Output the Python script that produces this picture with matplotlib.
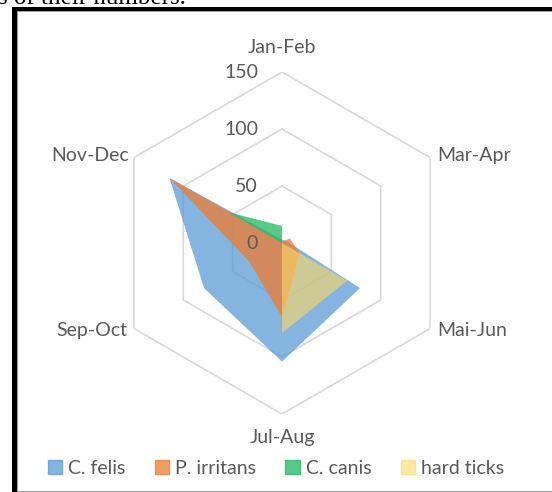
import matplotlib.pyplot as plt
import numpy as np
from matplotlib.patches import Patch, Rectangle

# seasonal counts per 2-month period
categories = ['Jan-Feb', 'Mar-Apr', 'Mai-Jun', 'Jul-Aug', 'Sep-Oct', 'Nov-Dec']
c_felis = [3, 4, 79, 104, 79, 114]
p_irritans = [1, 8, 18, 65, 33, 114]
c_canis = [15, 0, 0, 0, 0, 54]
hard_ticks = [0, 0, 66, 79, 0, 0]
r_ticks = [0, 50, 100, 150]

series = [('C. felis', c_felis, '#5B9BD5', 0.75),
          ('P. irritans', p_irritans, '#ED7D31', 0.75),
          ('C. canis', c_canis, '#22B863', 0.75),
          ('hard ticks', hard_ticks, '#FFD966', 0.6)]

txt = '#595959'
font = 'Lato'
fs = 14

fig = plt.figure(figsize=(5.52, 4.92), dpi=100)
ax = fig.add_axes([0.2011, 0.1585, 0.6196, 0.6951], projection='polar')
ax.set_theta_zero_location('N')
ax.set_theta_direction(-1)
ax.set_ylim(0, 150)
ax.grid(False)
ax.spines['polar'].set_visible(False)
ax.set_xticks([])
ax.set_yticks([])
ax.patch.set_alpha(0)

theta = np.linspace(0, 2 * np.pi, len(categories), endpoint=False)
th_closed = np.append(theta, theta[0])

# hexagonal grid
for r in r_ticks[1:]:
    ax.plot(th_closed, [r] * len(th_closed), color='#D9D9D9', lw=1.2, zorder=0)

for name, vals, col, a in series:
    v = np.append(vals, vals[0])
    ax.fill(th_closed, v, color=col, alpha=a, lw=0, zorder=2)

# category labels
offs = [(0, 25, 'center'), (7, 2, 'left'), (7, -2, 'left'),
        (0, -23, 'center'), (-7, -2, 'right'), (-5, 2, 'right')]
for t, lab, (dx, dy, ha) in zip(theta, categories, offs):
    ax.annotate(lab, (t, 150), xytext=(dx, dy), textcoords='offset pixels',
                ha=ha, va='center', fontsize=fs, color=txt, family=font,
                annotation_clip=False)

for r in r_ticks:
    ax.annotate(str(r), (0, r), xytext=(-24, 0), textcoords='offset pixels',
                ha='right', va='center', fontsize=fs, color=txt, family=font,
                annotation_clip=False)

handles = [Patch(facecolor=c, alpha=a, edgecolor=c, label=n) for n, _, c, a in series]
leg = fig.legend(handles=handles, loc='center', bbox_to_anchor=(0.5, 24 / 492),
                 ncol=4, frameon=False, handlelength=0.75, handleheight=0.75,
                 handletextpad=0.3, columnspacing=1.5,
                 prop={'family': font, 'size': fs})
for t in leg.get_texts():
    t.set_color(txt)

# page frame and clipped caption text above it
W, H = 552, 492
fig.add_artist(Rectangle((12 / W, 0), 5 / W, (H - 7) / H, transform=fig.transFigure,
                         color='black', lw=0))
fig.add_artist(Rectangle((12 / W, (H - 11) / H), 1 - 12 / W, 4 / H,
                         transform=fig.transFigure, color='black', lw=0))
fig.add_artist(Rectangle((17 / W, 0), 1.2 / W, (H - 11) / H, transform=fig.transFigure,
                         color='#A0A0A0', lw=0))
fig.add_artist(Rectangle((17 / W, (H - 12) / H), 1 - 17 / W, 1.2 / H,
                         transform=fig.transFigure, color='#A0A0A0', lw=0))
fig.add_artist(Rectangle((17 / W, 0), 1 - 17 / W, 1.5 / H, transform=fig.transFigure,
                         color='#A0A0A0', lw=0))
fig.text(-2 / W, 1 - 4 / H, 's of their numbers.', family='Liberation Serif',
         fontsize=18, va='baseline', ha='left', color='black')

fig.savefig('out.png', dpi=100)
